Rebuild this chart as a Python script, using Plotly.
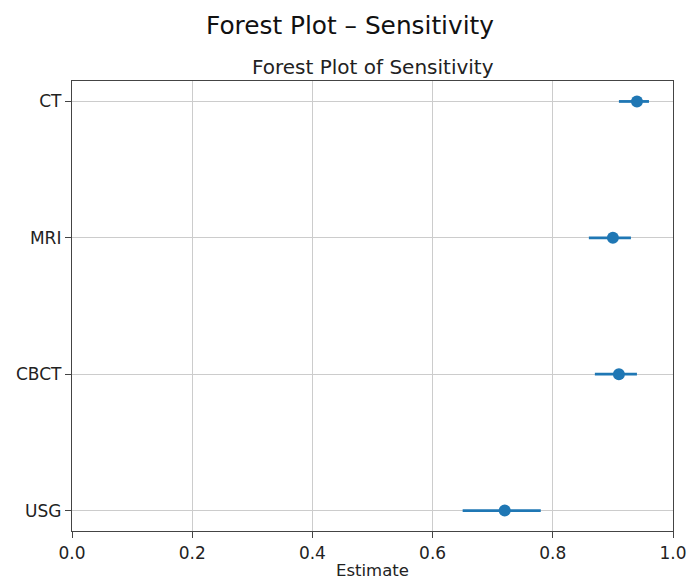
import plotly.graph_objects as go

categories = ["USG", "CBCT", "MRI", "CT"]
estimates = [0.72, 0.91, 0.90, 0.94]
ci_lower = [0.65, 0.87, 0.86, 0.91]
ci_upper = [0.78, 0.94, 0.93, 0.96]
x_ticks = [0.0, 0.2, 0.4, 0.6, 0.8, 1.0]
x_tick_labels = ["0.0", "0.2", "0.4", "0.6", "0.8", "1.0"]

blue = "#1f77b4"
err_plus = [u - e for u, e in zip(ci_upper, estimates)]
err_minus = [e - l for e, l in zip(estimates, ci_lower)]

fig = go.Figure()
fig.add_trace(go.Scatter(
    x=estimates,
    y=list(range(len(categories))),
    mode="markers",
    marker=dict(color=blue, size=12),
    error_x=dict(type="data", symmetric=False, array=err_plus, arrayminus=err_minus,
                 color=blue, thickness=2.8, width=0),
    showlegend=False,
))

axis_common = dict(
    showline=True, linecolor="#444", linewidth=1.3, mirror=True,
    ticks="outside", ticklen=6, tickcolor="#444",
    showgrid=True, gridcolor="#cccccc", gridwidth=1, zeroline=False,
    tickfont=dict(family="DejaVu Sans", size=17, color="#222"),
    automargin=False,
)

fig.update_layout(
    width=692, height=572,
    paper_bgcolor="white", plot_bgcolor="white",
    margin=dict(l=64, r=27, t=73, b=49),
    font=dict(family="DejaVu Sans", color="#222"),
    xaxis=dict(range=[0, 1], tickvals=x_ticks, ticktext=x_tick_labels,
               title=dict(text="Estimate", font=dict(size=16.5), standoff=4), **axis_common),
    yaxis=dict(range=[-0.15, 3.15], tickvals=list(range(len(categories))), ticktext=categories,
               **axis_common),
    annotations=[
        dict(text="Forest Plot – Sensitivity", xref="paper", yref="paper", x=0.4626, y=1,
             xanchor="center", yanchor="middle", yshift=56, showarrow=False,
             font=dict(size=24.8, family="DejaVu Sans", color="#111")),
        dict(text="Forest Plot of Sensitivity", xref="paper", yref="paper", x=0.5, y=1,
             xanchor="center", yanchor="middle", yshift=14, showarrow=False,
             font=dict(size=20, family="DejaVu Sans", color="#222")),
    ],
)

fig.write_html("out.html")
